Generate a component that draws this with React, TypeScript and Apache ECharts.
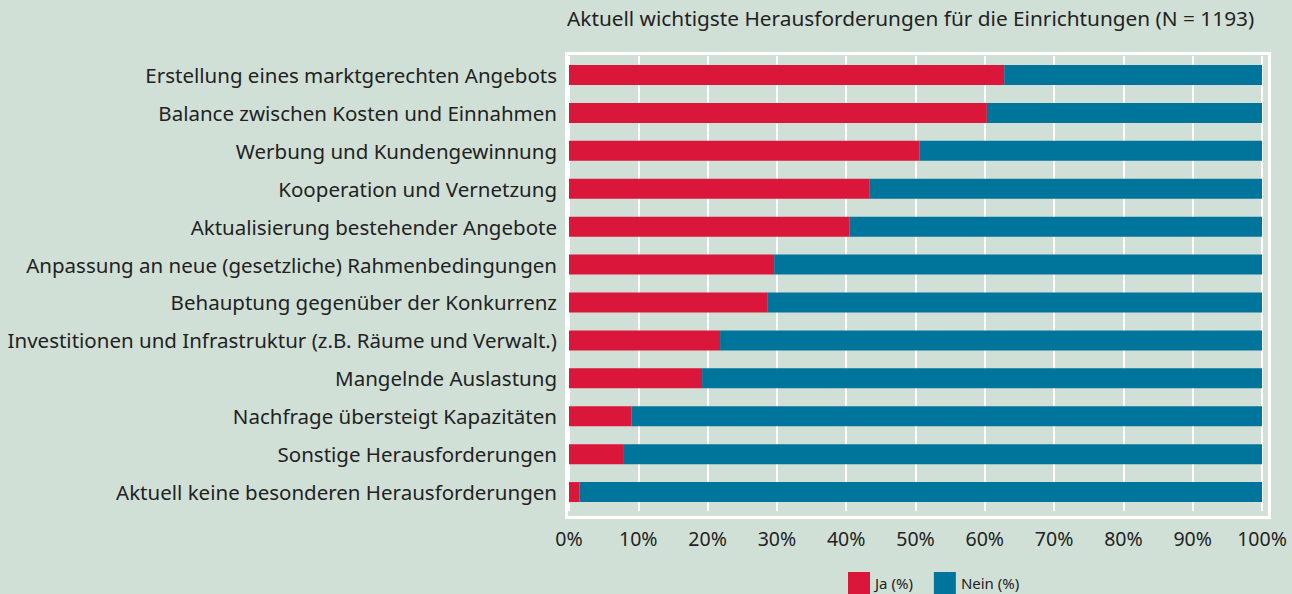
import React, { useEffect, useRef } from "react";
import * as echarts from "echarts";

const categories = [
  "Erstellung eines marktgerechten Angebots",
  "Balance zwischen Kosten und Einnahmen",
  "Werbung und Kundengewinnung",
  "Kooperation und Vernetzung",
  "Aktualisierung bestehender Angebote",
  "Anpassung an neue (gesetzliche) Rahmenbedingungen",
  "Behauptung gegenüber der Konkurrenz",
  "Investitionen und Infrastruktur (z.B. Räume und Verwalt.)",
  "Mangelnde Auslastung",
  "Nachfrage übersteigt Kapazitäten",
  "Sonstige Herausforderungen",
  "Aktuell keine besonderen Herausforderungen",
];

const jaValues = [62.8, 60.3, 50.6, 43.4, 40.5, 29.6, 28.6, 21.8, 19.2, 9.0, 7.8, 1.5];
const neinValues = [37.2, 39.7, 49.4, 56.6, 59.5, 70.4, 71.4, 78.2, 80.8, 91.0, 92.2, 98.5];

const seriesNames = ["Ja (%)", "Nein (%)"];
const titleText = "Aktuell wichtigste Herausforderungen für die Einrichtungen (N = 1193)";

const BG = "#d1e0d7";
const RED = "#da163b";
const BLUE = "#00759b";
const TEXT = "#222222";
const FONT = "'Noto Sans', sans-serif";

export default function App() {
  const ref = useRef<HTMLDivElement>(null);
  useEffect(() => {
    if (!ref.current) return;
    const chart = echarts.init(ref.current, null, { renderer: "svg" });
    chart.setOption({
      animation: false,
      backgroundColor: BG,
      title: {
        text: titleText,
        left: 567,
        top: 7,
        padding: 0,
        textStyle: { fontFamily: FONT, fontSize: 20.8, fontWeight: "normal", color: TEXT },
      },
      legend: {
        data: seriesNames,
        left: 848,
        top: 572,
        padding: 0,
        itemWidth: 22,
        itemHeight: 22,
        itemGap: 21,
        icon: "rect",
        textStyle: { fontFamily: FONT, fontSize: 15, color: TEXT },
      },
      grid: { left: 569, right: 1292 - 1262, top: 56, height: 455 },
      graphic: [
        {
          type: "rect",
          left: 564,
          top: 51,
          shape: { width: 703, height: 464 },
          style: { fill: "none", stroke: "#ffffff", lineWidth: 3 },
          silent: true,
          z: 0,
        },
      ],
      xAxis: {
        type: "value",
        min: 0,
        max: 100,
        interval: 10,
        axisLine: { show: false },
        axisTick: { show: false },
        splitLine: { show: true, lineStyle: { color: "#ffffff", width: 2 } },
        axisLabel: {
          formatter: "{value}%",
          fontFamily: FONT,
          fontSize: 19.5,
          color: TEXT,
          margin: 17,
        },
      },
      yAxis: {
        type: "category",
        data: categories,
        inverse: true,
        axisLine: { show: false },
        axisTick: { show: false },
        axisLabel: {
          fontFamily: FONT,
          fontSize: 20.5,
          color: TEXT,
          margin: 12,
        },
      },
      series: [
        {
          name: seriesNames[0],
          type: "bar",
          stack: "total",
          data: jaValues,
          barWidth: 20,
          itemStyle: { color: RED },
        },
        {
          name: seriesNames[1],
          type: "bar",
          stack: "total",
          data: neinValues,
          barWidth: 20,
          itemStyle: { color: BLUE },
        },
      ],
    });
    return () => chart.dispose();
  }, []);
  return (
    <div
      ref={ref}
      style={{ position: "fixed", left: 0, top: 0, width: 1292, height: 594 }}
    />
  );
}
